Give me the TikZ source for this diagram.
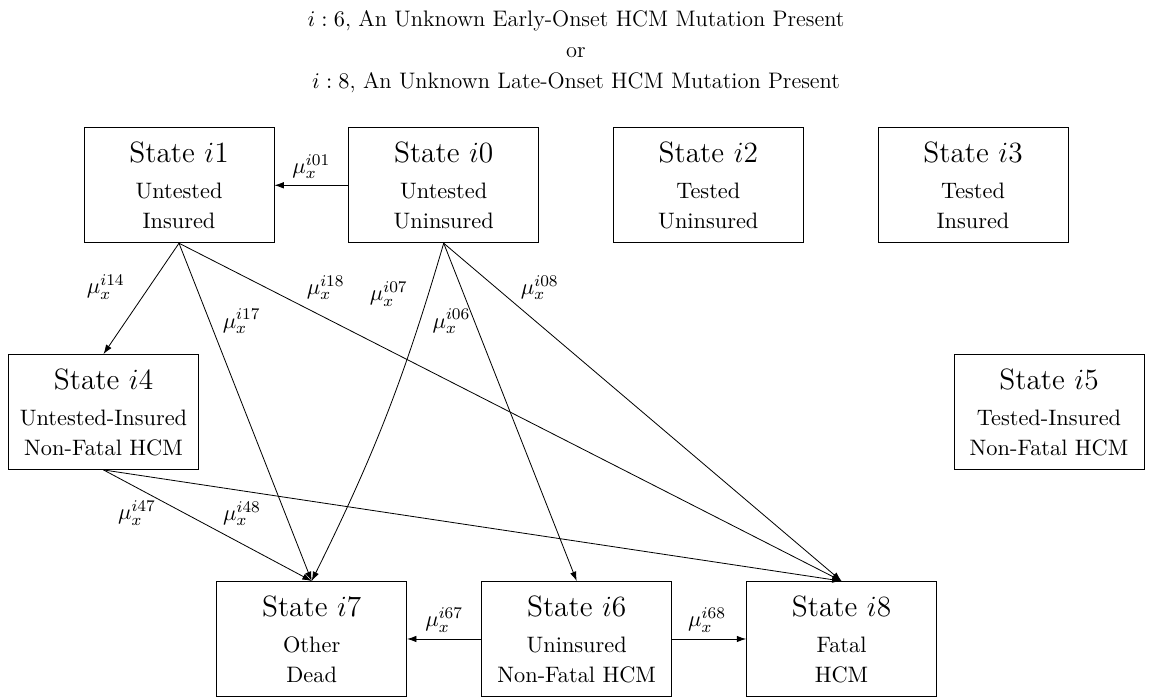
\documentclass[tikz,border=0pt]{standalone}
\usetikzlibrary{arrows.meta}
\begin{document}
\newcommand\statehead[1]{{\fontsize{14.4}{18}\selectfont State $i#1$}}
\begin{tikzpicture}[x=0.4902pt,y=0.4902pt,
  every node/.style={font=\fontsize{10.95}{13.6}\selectfont},
  state/.style={draw, line width=0.4pt, minimum width=93.1pt, minimum height=56.4pt,
                inner sep=0pt, align=center},
  rate/.style={inner sep=0pt},
  trans/.style={-{Latex[length=4.6pt,width=3.2pt]}, line width=0.4pt}]
\useasboundingbox (0,0) rectangle (1150,698);

% heading
\node[align=center, anchor=north, inner sep=0pt, font=\fontsize{11}{15.2}\selectfont] (title) at (576,688)
  {$i:6$, An Unknown Early-Onset HCM Mutation Present\\ or\\ $i:8$, An Unknown Late-Onset HCM Mutation Present};

% states
\node[state] (i1) at (179,512.7)   {\statehead{1}\\[4pt]Untested\\[1.1pt]Insured};
\node[state] (i0) at (443.7,512.7) {\statehead{0}\\[4pt]Untested\\[1.1pt]Uninsured};
\node[state] (i2) at (708.3,512.7) {\statehead{2}\\[4pt]Tested\\[1.1pt]Uninsured};
\node[state] (i3) at (973,512.7)   {\statehead{3}\\[4pt]Tested\\[1.1pt]Insured};
\node[state] (i4) at (103.5,286)   {\statehead{4}\\[4pt]Untested-Insured\\[1.1pt]Non-Fatal HCM};
\node[state] (i5) at (1049,286)    {\statehead{5}\\[4pt]Tested-Insured\\[1.1pt]Non-Fatal HCM};
\node[state] (i7) at (311.7,59)    {\statehead{7}\\[4pt]Other\\[1.1pt]Dead};
\node[state] (i6) at (576.7,59)    {\statehead{6}\\[4pt]Uninsured\\[1.1pt]Non-Fatal HCM};
\node[state] (i8) at (841.5,59)    {\statehead{8}\\[4pt]Fatal\\[1.1pt]HCM};

% transitions
\draw[trans] (i0.west) -- node[rate, pos=0.5, shift={(0,18.5)}] {$\mu_x^{i01}$} (i1.east);
\draw[trans] (i1.south) -- node[rate, pos=0.44, shift={(-40,5)}] {$\mu_x^{i14}$} (i4.north);
\draw[trans] (i1.south) -- node[rate, pos=0.246, shift={(30,5)}] {$\mu_x^{i17}$} (i7.north);
\draw[trans] (i1.south) -- node[rate, pos=0.146, shift={(50,5)}] {$\mu_x^{i18}$} (i8.north);
\draw[trans] (i0.south) to[bend left=5] node[rate, pos=0.146, shift={(-38,5)}] {$\mu_x^{i07}$} (i7.north);
\draw[trans] (i0.south) -- node[rate, pos=0.246, shift={(-25,5)}] {$\mu_x^{i06}$} (i6.north);
\draw[trans] (i0.south) -- node[rate, pos=0.146, shift={(38,5)}] {$\mu_x^{i08}$} (i8.north);
\draw[trans] (i4.south) -- node[rate, pos=0.408, shift={(-51.5,2)}] {$\mu_x^{i47}$} (i7.north);
\draw[trans] (i4.south) -- node[rate, pos=0.1877, shift={(0,-23)}] {$\mu_x^{i48}$} (i8.north);
\draw[trans] (i6.west) -- node[rate, pos=0.5, shift={(0,19)}] {$\mu_x^{i67}$} (i7.east);
\draw[trans] (i6.east) -- node[rate, pos=0.5, shift={(-2,19)}] {$\mu_x^{i68}$} (i8.west);
\end{tikzpicture}
\end{document}
